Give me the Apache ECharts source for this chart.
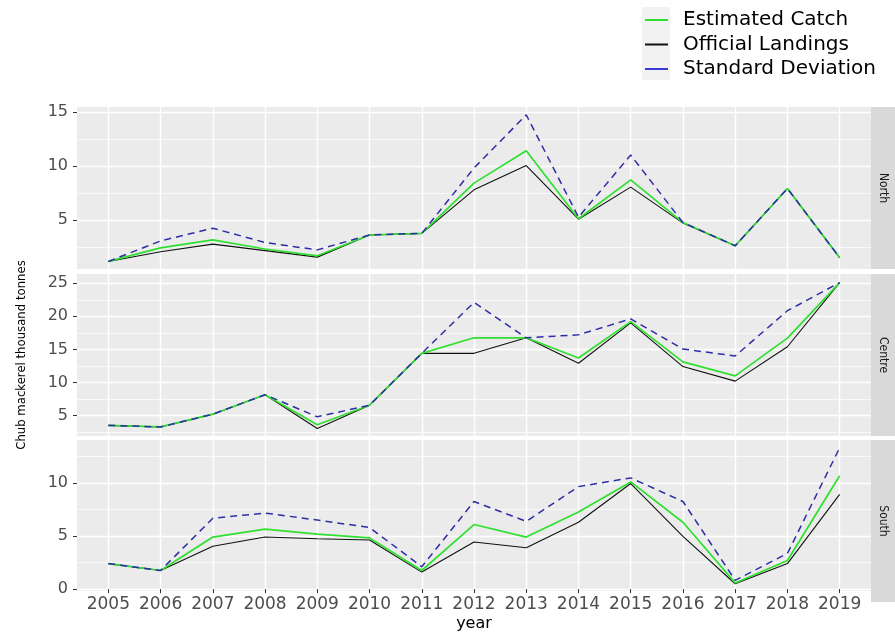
<!DOCTYPE html>
<html>
<head>
<meta charset="utf-8">
<title>Chub mackerel catch</title>
<script src="https://cdn.jsdelivr.net/npm/echarts@6.0.0/dist/echarts.min.js"></script>
<style>
  html, body { margin: 0; padding: 0; background: #fff; }
  #chart { width: 895px; height: 633px; }
</style>
</head>
<body>
<div id="chart"></div>
<script>
// data (thousand tonnes)
const years = [2005, 2006, 2007, 2008, 2009, 2010, 2011, 2012, 2013, 2014, 2015, 2016, 2017, 2018, 2019];

const northEstimated = [1.15, 2.4, 3.15, 2.3, 1.67, 3.6, 3.75, 8.4, 11.4, 5.1, 8.7, 4.75, 2.6, 7.9, 1.5];
const northOfficial = [1.15, 2.05, 2.75, 2.15, 1.55, 3.6, 3.75, 7.78, 10.03, 5.06, 8.03, 4.7, 2.6, 7.9, 1.5];
const northSd = [1.15, 3.05, 4.23, 2.9, 2.22, 3.6, 3.75, 9.8, 14.72, 5.25, 11.0, 4.75, 2.6, 7.9, 1.5];

const centreEstimated = [3.5, 3.27, 5.2, 8.15, 3.6, 6.56, 14.4, 16.75, 16.75, 13.7, 19.2, 13.1, 11.0, 16.7, 25.1];
const centreOfficial = [3.5, 3.27, 5.2, 8.15, 3.03, 6.56, 14.4, 14.4, 16.75, 12.9, 19.0, 12.4, 10.2, 15.4, 25.1];
const centreSd = [3.5, 3.27, 5.2, 8.15, 4.8, 6.56, 14.4, 22.1, 16.75, 17.2, 19.6, 15.05, 14.0, 20.85, 25.1];

const southEstimated = [2.4, 1.75, 4.9, 5.64, 5.18, 4.82, 1.75, 6.08, 4.9, 7.25, 10.09, 6.29, 0.58, 2.69, 10.67];
const southOfficial = [2.4, 1.75, 4.03, 4.9, 4.74, 4.62, 1.6, 4.44, 3.89, 6.29, 9.94, 4.97, 0.5, 2.4, 8.92];
const southSd = [2.4, 1.75, 6.67, 7.16, 6.5, 5.8, 2.1, 8.25, 6.37, 9.65, 10.47, 8.25, 0.82, 3.36, 13.3];

const northTicks = [5, 10, 15];
const northMinor = [2.5, 7.5, 12.5];
const centreTicks = [5, 10, 15, 20, 25];
const centreMinor = [2.5, 7.5, 12.5, 17.5, 22.5];
const southTicks = [0, 5, 10];
const southMinor = [2.5, 7.5, 12.5];

const wide = "'DejaVu Sans', Verdana, sans-serif";
const narrow = "'Liberation Sans Narrow', 'DejaVu Sans Condensed', Arial, sans-serif";

const panels = [
  {name: 'North', est: northEstimated, off: northOfficial, sd: northSd, ticks: northTicks, minor: northMinor, min: 0.45, max: 15.45, top: 107},
  {name: 'Centre', est: centreEstimated, off: centreOfficial, sd: centreSd, ticks: centreTicks, minor: centreMinor, min: 1.9, max: 26.4, top: 274},
  {name: 'South', est: southEstimated, off: southOfficial, sd: southSd, ticks: southTicks, minor: southMinor, min: -0.18, max: 14.04, top: 440}
];
const panelH = 162;

const pairs = vals => years.map((y, i) => [y, vals[i]]);

let grid = [], xAxis = [], yAxis = [], series = [];
let graphic = [
  // grey box behind legend keys
  {type: 'rect', shape: {x: 642, y: 7, width: 28, height: 73}, style: {fill: '#f2f2f2'}, z: -1}
];

panels.forEach((p, i) => {
  const last = i === panels.length - 1;
  grid.push({
    left: 77, right: 24, top: p.top, height: panelH,
    show: true, backgroundColor: '#ebebeb', borderWidth: 0
  });
  xAxis.push({
    type: 'value', gridIndex: i, min: 2004.4, max: 2019.6,
    axisLine: {show: false},
    axisTick: {show: last, customValues: years, length: 4, lineStyle: {color: '#333'}},
    axisLabel: {
      show: last, customValues: years, formatter: v => String(v),
      color: '#4d4d4d', fontSize: 17, fontFamily: wide, margin: 5
    },
    splitLine: {show: true, lineStyle: {color: '#fff', width: 1.4}},
    name: last ? 'year' : '', nameLocation: 'middle', nameGap: 25,
    nameTextStyle: {color: '#000', fontSize: 16, fontFamily: wide}
  });
  // major axis
  yAxis.push({
    type: 'value', gridIndex: i, min: p.min, max: p.max,
    axisLine: {show: false},
    axisTick: {show: true, customValues: p.ticks, length: 4, lineStyle: {color: '#333'}},
    axisLabel: {customValues: p.ticks, color: '#4d4d4d', fontSize: 16, fontFamily: wide, margin: 9},
    splitLine: {show: true, lineStyle: {color: '#fff', width: 1.4}},
    name: i === 1 ? 'Chub mackerel thousand tonnes' : '',
    nameLocation: 'middle', nameGap: 49, nameRotate: 90,
    nameTextStyle: {color: '#000', fontSize: 13, fontFamily: narrow}
  });
  // minor grid lines
  yAxis.push({
    type: 'value', gridIndex: i, min: p.min, max: p.max, position: 'left',
    axisLine: {show: false},
    axisTick: {show: false, customValues: p.minor},
    axisLabel: {show: false, customValues: p.minor},
    splitLine: {show: true, lineStyle: {color: '#fff', width: 0.7}}
  });

  const common = {type: 'line', xAxisIndex: i, yAxisIndex: 2 * i, showSymbol: false, symbol: 'none', silent: true};
  series.push(Object.assign({}, common, {
    name: 'Official Landings', data: pairs(p.off),
    itemStyle: {color: '#111'}, lineStyle: {color: '#111', width: 1.1}
  }));
  series.push(Object.assign({}, common, {
    name: 'Estimated Catch', data: pairs(p.est),
    itemStyle: {color: '#2fe02f'}, lineStyle: {color: '#2fe02f', width: 1.7}
  }));
  series.push(Object.assign({}, common, {
    name: 'Standard Deviation', data: pairs(p.sd),
    itemStyle: {color: '#2d2da6'}, lineStyle: {color: '#2d2da6', width: 1.5, type: [7, 5]}
  }));

  // facet strip on the right
  graphic.push({type: 'rect', shape: {x: 871, y: p.top, width: 24, height: panelH}, style: {fill: '#d9d9d9'}});
  graphic.push({
    type: 'text', x: 883, y: p.top + panelH / 2, rotation: -Math.PI / 2,
    style: {text: p.name, fill: '#1a1a1a', fontSize: 12, fontFamily: narrow, align: 'center', verticalAlign: 'middle'}
  });
});

const chart = echarts.init(document.getElementById('chart'));
chart.setOption({
  animation: false,
  backgroundColor: '#fff',
  grid: grid,
  xAxis: xAxis,
  yAxis: yAxis,
  series: series,
  graphic: graphic,
  legend: {
    data: [
      {name: 'Estimated Catch'},
      {name: 'Official Landings'},
      {name: 'Standard Deviation', itemStyle: {color: '#3a3ad6'}}
    ],
    orient: 'vertical', left: 645, top: 10, padding: 0,
    itemWidth: 23, itemHeight: 2, itemGap: 4.5, icon: 'rect', selectedMode: false,
    textStyle: {color: '#000', fontSize: 20, fontFamily: wide, padding: [0, 0, 0, 10]}
  }
});
</script>
</body>
</html>
